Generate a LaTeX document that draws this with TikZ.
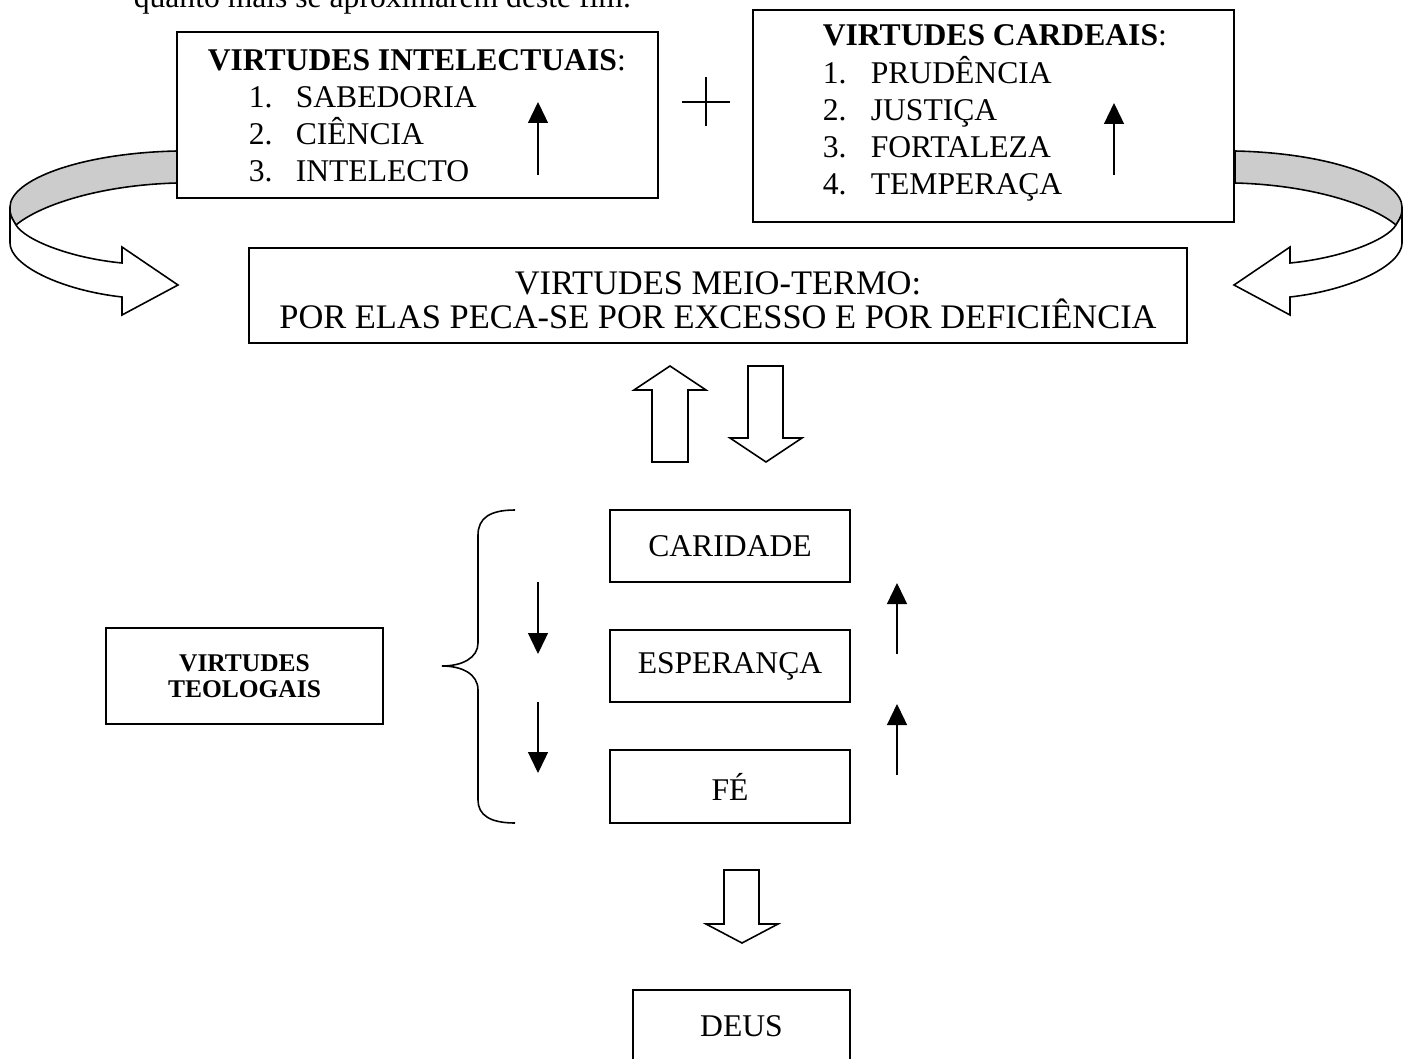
\documentclass[tikz,border=0pt]{standalone}
\usepackage{fontspec}
\setmainfont{Liberation Serif}
\usetikzlibrary{arrows.meta}

\begin{document}
\begin{tikzpicture}[x=0.02cm, y=-0.02cm, line width=0.9pt,
    box/.style={draw, fill=white, line width=1.1pt, inner sep=0pt, align=center, font=\fontsize{18}{21}\selectfont},
    txt/.style={anchor=base west, inner sep=0pt, font=\fontsize{18}{21}\selectfont},
    uparrow/.style={-{Triangle[width=0.4cm,length=0.42cm]}, line width=0.75pt},
    hollow/.style={draw, fill=white, line width=0.9pt, line join=miter}]
    \useasboundingbox (0,0) rectangle (1412,1058);

    % end of the paragraph above
    \node[txt] (intro) at (133,8) {quanto mais se aproximarem deste fim.};

    % curved arrows round the top boxes
    \foreach \s in {1,-1} {
      \begin{scope}[shift={(706,0)}, xscale=\s]
        \filldraw[fill=gray!40] (-529,151) .. controls (-626,153) and (-696,180) .. (-696,207)
            .. controls (-696,215) .. (-690,225)
            .. controls (-666,205) and (-606,185) .. (-529,183) -- cycle;
        \filldraw[fill=white, line join=miter] (-696,207) -- (-696,243)
            .. controls (-696,265) and (-646,290) .. (-584,297)
            -- (-584,315) -- (-528,285) -- (-584,247) -- (-584,263)
            .. controls (-636,258) and (-681,240) .. (-690,225)
            .. controls (-696,215) .. (-696,207) -- cycle;
      \end{scope}
    }

    % top boxes
    \node[box, minimum width=9.62cm, minimum height=3.32cm] (intelectuais) at (417.5,115) {};
    \node[txt] (tit1) at (207,70) {\textbf{VIRTUDES INTELECTUAIS}:};
    \foreach \w [count=\i] in {SABEDORIA, CIÊNCIA, INTELECTO} {
      \node[txt] (n1\i) at (248,70+37*\i) {\i.};
      \node[txt] (v1\i) at (295,70+37*\i) {\w};
    }
    \draw[uparrow] (538,175) -- (538,102);

    \draw[line width=0.75pt] (682,102) -- (730,102);
    \draw[line width=0.75pt] (706,77) -- (706,126);

    \node[box, minimum width=9.62cm, minimum height=4.24cm] (cardeais) at (993.5,116) {};
    \node[txt] (tit2) at (822,45) {\textbf{VIRTUDES CARDEAIS}:};
    \foreach \w [count=\i] in {PRUDÊNCIA, JUSTIÇA, FORTALEZA, TEMPERAÇA} {
      \node[txt] (n2\i) at (822,46+37*\i) {\i.};
      \node[txt] (v2\i) at (870,46+37*\i) {\w};
    }
    \draw[uparrow] (1114,175) -- (1114,103);

    % middle box
    \node[box, minimum width=18.76cm, minimum height=1.9cm] (meio) at (718,295.5) {};
    \node[align=center, inner sep=0pt, font=\fontsize{19.6}{19.3}\selectfont] (meiotxt) at (718,300)
        {VIRTUDES MEIO-TERMO:\\POR ELAS PECA-SE POR EXCESSO E POR DEFICIÊNCIA};

    % block arrows up and down
    \draw[hollow] (652,462) -- (652,390) -- (634,390) -- (670,366) -- (706,390) -- (688,390) -- (688,462) -- cycle;
    \draw[hollow] (748,366) -- (748,438) -- (730,438) -- (766,462) -- (802,438) -- (783,438) -- (783,366) -- cycle;

    % theological virtues
    \node[box, minimum width=5.54cm, minimum height=1.92cm, font=\fontsize{14.5}{14.8}\selectfont\bfseries] (teologais) at (244.5,676)
        {VIRTUDES\\TEOLOGAIS};
    \draw (515,510) .. controls (490,510) and (478,518) .. (478,535) -- (478,643)
        .. controls (478,658) and (462,666) .. (442,666)
        .. controls (462,666) and (478,674) .. (478,690) -- (478,800)
        .. controls (478,815) and (490,823) .. (515,823);

    \node[box, minimum width=4.8cm, minimum height=1.44cm] (caridade) at (730,546) {CARIDADE};
    \node[box, minimum width=4.8cm, minimum height=1.44cm] (esperanca) at (730,666) {ESPERANÇA};
    \node[box, minimum width=4.8cm, minimum height=1.46cm] (fe) at (730,786.5) {FÉ};

    \draw[uparrow] (538,582) -- (538,654);
    \draw[uparrow] (538,702) -- (538,773);
    \draw[uparrow] (897,654) -- (897,583);
    \draw[uparrow] (897,775) -- (897,704);

    % down to God
    \draw[hollow] (724,870) -- (724,924) -- (706,924) -- (742,943) -- (778,924) -- (759,924) -- (759,870) -- cycle;
    \node[box, minimum width=4.34cm, minimum height=1.46cm] (deus) at (741.5,1026.5) {DEUS};
\end{tikzpicture}
\end{document}
